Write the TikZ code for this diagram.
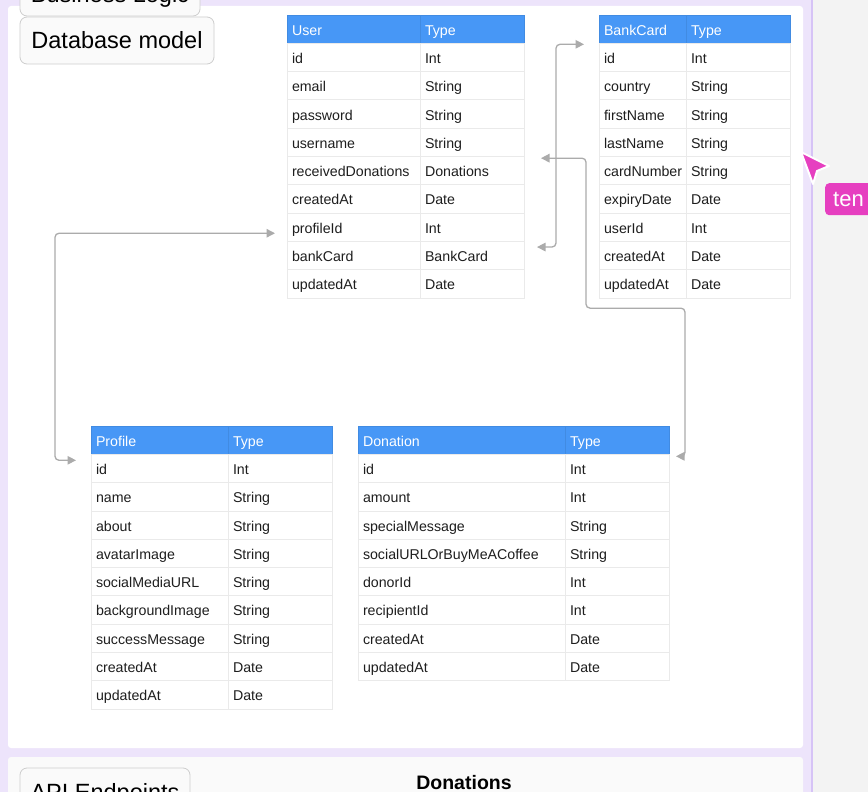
\documentclass[tikz,border=0pt]{standalone}
\usepackage{fontspec}
\setmainfont{Liberation Sans}
\usetikzlibrary{arrows.meta}
\definecolor{hdblue}{HTML}{4797F6}
\definecolor{gridgray}{HTML}{EAEAEA}
\definecolor{linkgray}{HTML}{ABABAB}
\definecolor{lavender}{HTML}{EDE4FB}
\definecolor{edgepurple}{HTML}{D6C3F6}
\definecolor{sidegray}{HTML}{F3F3F3}
\definecolor{panelgray}{HTML}{FAFAFA}
\definecolor{tagborder}{HTML}{CDCDCD}
\definecolor{cursorpink}{HTML}{E63FC0}
\definecolor{celltext}{HTML}{1E1E1E}
\begin{document}
\begin{tikzpicture}[x=1pt,y=-1pt,
	cell/.style={draw=gridgray,line width=0.8pt,anchor=north west,outer sep=0pt,minimum height=28.3pt,inner xsep=5pt,inner ysep=0pt,text height=12pt,text depth=0pt,align=left,text=celltext,font=\fontsize{14.2}{16}\selectfont},
	fld/.style={cell,text width=#1},
	hd/.style={cell,fill=hdblue,draw=hdblue!92!black,text=white,text width=#1},
	tag/.style={draw=tagborder,fill=panelgray,line width=0.8pt,rounded corners=7pt,font=\fontsize{23.5}{26}\selectfont,text=black},
	link/.style={draw=linkgray,line width=1.3pt,rounded corners=4pt,>={Triangle[length=8.5pt,width=8.5pt]},<->}]
	\useasboundingbox (0,0) rectangle (868,792);
	\clip (0,0) rectangle (868,792);
	
	\fill[sidegray] (0,0) rectangle (868,792);
	\fill[lavender] (0,0) rectangle (812,792);
	\draw[edgepurple,line width=1.5pt] (812,0) -- (812,792);
	\fill[white,rounded corners=3pt] (8,6) rectangle (803,748);
	\fill[panelgray,rounded corners=3pt] (8,757) rectangle (803,810);
	
	\node[tag,minimum width=180pt,minimum height=40pt] (biz) at (110,-4) {Business Logic};
	\node[tag,minimum width=194pt,minimum height=47pt] (dbm) at (117,40.5) {Database model};
	\node[tag,minimum width=170pt,minimum height=52pt] (api) at (105,794) {API Endpoints};
	\node[font=\bfseries\fontsize{19.5}{22}\selectfont,anchor=base] (don) at (464,789) {Donations};
	
	\node[hd=123pt] (uh) at (287,15) {User};
	\node[hd=94pt] (uth) at (uh.north east) {Type};
	\node[fld=123pt] (u1) at (uh.south west) {id};
	\node[fld=94pt] (ut1) at (u1.north east) {Int};
	\node[fld=123pt] (u2) at (u1.south west) {email};
	\node[fld=94pt] (ut2) at (u2.north east) {String};
	\node[fld=123pt] (u3) at (u2.south west) {password};
	\node[fld=94pt] (ut3) at (u3.north east) {String};
	\node[fld=123pt] (u4) at (u3.south west) {username};
	\node[fld=94pt] (ut4) at (u4.north east) {String};
	\node[fld=123pt] (u5) at (u4.south west) {receivedDonations};
	\node[fld=94pt] (ut5) at (u5.north east) {Donations};
	\node[fld=123pt] (u6) at (u5.south west) {createdAt};
	\node[fld=94pt] (ut6) at (u6.north east) {Date};
	\node[fld=123pt] (u7) at (u6.south west) {profileId};
	\node[fld=94pt] (ut7) at (u7.north east) {Int};
	\node[fld=123pt] (u8) at (u7.south west) {bankCard};
	\node[fld=94pt] (ut8) at (u8.north east) {BankCard};
	\node[fld=123pt] (u9) at (u8.south west) {updatedAt};
	\node[fld=94pt] (ut9) at (u9.north east) {Date};
	
	\node[hd=77pt] (bh) at (599,15) {BankCard};
	\node[hd=94pt] (bth) at (bh.north east) {Type};
	\node[fld=77pt] (b1) at (bh.south west) {id};
	\node[fld=94pt] (bt1) at (b1.north east) {Int};
	\node[fld=77pt] (b2) at (b1.south west) {country};
	\node[fld=94pt] (bt2) at (b2.north east) {String};
	\node[fld=77pt] (b3) at (b2.south west) {firstName};
	\node[fld=94pt] (bt3) at (b3.north east) {String};
	\node[fld=77pt] (b4) at (b3.south west) {lastName};
	\node[fld=94pt] (bt4) at (b4.north east) {String};
	\node[fld=77pt] (b5) at (b4.south west) {cardNumber};
	\node[fld=94pt] (bt5) at (b5.north east) {String};
	\node[fld=77pt] (b6) at (b5.south west) {expiryDate};
	\node[fld=94pt] (bt6) at (b6.north east) {Date};
	\node[fld=77pt] (b7) at (b6.south west) {userId};
	\node[fld=94pt] (bt7) at (b7.north east) {Int};
	\node[fld=77pt] (b8) at (b7.south west) {createdAt};
	\node[fld=94pt] (bt8) at (b8.north east) {Date};
	\node[fld=77pt] (b9) at (b8.south west) {updatedAt};
	\node[fld=94pt] (bt9) at (b9.north east) {Date};
	
	\node[hd=127pt] (ph) at (91,426) {Profile};
	\node[hd=94pt] (pth) at (ph.north east) {Type};
	\node[fld=127pt] (p1) at (ph.south west) {id};
	\node[fld=94pt] (pt1) at (p1.north east) {Int};
	\node[fld=127pt] (p2) at (p1.south west) {name};
	\node[fld=94pt] (pt2) at (p2.north east) {String};
	\node[fld=127pt] (p3) at (p2.south west) {about};
	\node[fld=94pt] (pt3) at (p3.north east) {String};
	\node[fld=127pt] (p4) at (p3.south west) {avatarImage};
	\node[fld=94pt] (pt4) at (p4.north east) {String};
	\node[fld=127pt] (p5) at (p4.south west) {socialMediaURL};
	\node[fld=94pt] (pt5) at (p5.north east) {String};
	\node[fld=127pt] (p6) at (p5.south west) {backgroundImage};
	\node[fld=94pt] (pt6) at (p6.north east) {String};
	\node[fld=127pt] (p7) at (p6.south west) {successMessage};
	\node[fld=94pt] (pt7) at (p7.north east) {String};
	\node[fld=127pt] (p8) at (p7.south west) {createdAt};
	\node[fld=94pt] (pt8) at (p8.north east) {Date};
	\node[fld=127pt] (p9) at (p8.south west) {updatedAt};
	\node[fld=94pt] (pt9) at (p9.north east) {Date};
	
	\node[hd=197pt] (dh) at (358,426) {Donation};
	\node[hd=94pt] (dth) at (dh.north east) {Type};
	\node[fld=197pt] (d1) at (dh.south west) {id};
	\node[fld=94pt] (dt1) at (d1.north east) {Int};
	\node[fld=197pt] (d2) at (d1.south west) {amount};
	\node[fld=94pt] (dt2) at (d2.north east) {Int};
	\node[fld=197pt] (d3) at (d2.south west) {specialMessage};
	\node[fld=94pt] (dt3) at (d3.north east) {String};
	\node[fld=197pt] (d4) at (d3.south west) {socialURLOrBuyMeACoffee};
	\node[fld=94pt] (dt4) at (d4.north east) {String};
	\node[fld=197pt] (d5) at (d4.south west) {donorId};
	\node[fld=94pt] (dt5) at (d5.north east) {Int};
	\node[fld=197pt] (d6) at (d5.south west) {recipientId};
	\node[fld=94pt] (dt6) at (d6.north east) {Int};
	\node[fld=197pt] (d7) at (d6.south west) {createdAt};
	\node[fld=94pt] (dt7) at (d7.north east) {Date};
	\node[fld=197pt] (d8) at (d7.south west) {updatedAt};
	\node[fld=94pt] (dt8) at (d8.north east) {Date};
	
	\coordinate (pin) at ([xshift=-15pt,yshift=-6pt]p1.north west);
	\coordinate (upid) at ([xshift=-12pt,yshift=-6pt]u7.west);
	\coordinate (bin) at ([xshift=-15pt,yshift=-1pt]bh.south west);
	\coordinate (ubank) at ([xshift=13pt,yshift=8.5pt]ut8.east);
	\coordinate (urecv) at ([xshift=17pt,yshift=12.5pt]ut5.east);
	\coordinate (din) at ([xshift=7pt,yshift=-2pt]dth.south east);
	
	\draw[link] (pin) -- ++(-21,0) |- (upid);
	\draw[link] (bin) -- ++(-28,0) |- (ubank);
	\draw[link] (urecv) -- ++(45,0) -- ++(0,150) -- ++(99,0) |- (din);
	
	\draw[white,line width=2pt,fill=cursorpink,line join=round] (801,152) -- (829,166) -- (817,171) -- (813,184) -- cycle;
	\node[anchor=north west,fill=cursorpink,rounded corners=4pt,text=white,minimum height=32pt,inner xsep=8pt,font=\fontsize{22}{24}\selectfont] (ten) at (825,183) {ten};
\end{tikzpicture}
\end{document}
